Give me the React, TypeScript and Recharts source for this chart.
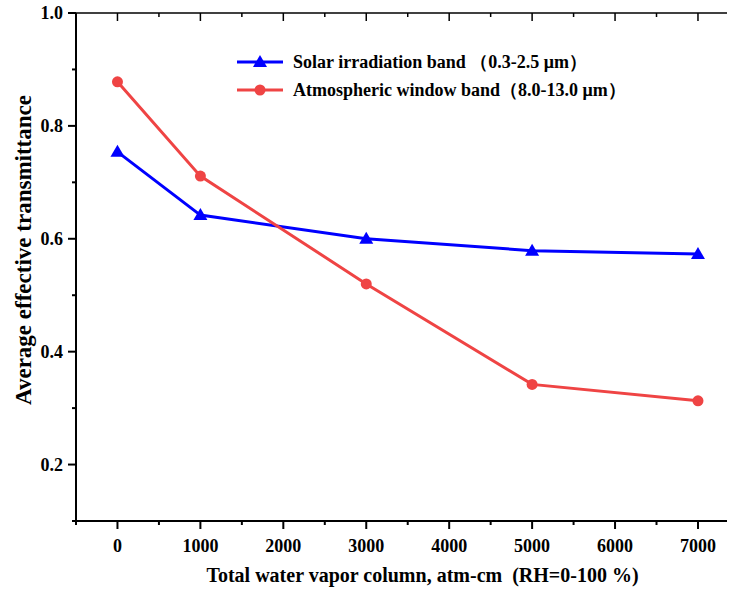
import { LineChart, Line, XAxis, YAxis } from "recharts";

const vaporColumn = [0, 1000, 3000, 5000, 7000];
const solarBand = [0.754, 0.642, 0.6, 0.579, 0.573];
const windowBand = [0.878, 0.711, 0.52, 0.342, 0.313];

const xTicks = [-500, 0, 500, 1000, 1500, 2000, 2500, 3000, 3500, 4000, 4500, 5000, 5500, 6000, 6500, 7000];
const yTicks = [0.1, 0.2, 0.3, 0.4, 0.5, 0.6, 0.7, 0.8, 0.9, 1.0];

const solarName = "Solar irradiation band （0.3-2.5 μm）";
const windowName = "Atmospheric window band（8.0-13.0 μm）";

const data = vaporColumn.map((x, i) => ({
  x,
  solar: solarBand[i],
  window: windowBand[i],
}));

const FONT = "'Liberation Serif', 'Times New Roman', serif";
const BLUE = "#0000ff";
const RED = "#ef4444";

const BottomTick = (props: any) => {
  const { x, y, payload } = props;
  const major = payload.value % 1000 === 0;
  return (
    <g>
      <line x1={x} x2={x} y1={y} y2={y + (major ? 8 : 4)} stroke="#000" strokeWidth={2} />
      {major && (
        <text x={x} y={y + 31} textAnchor="middle" fontFamily={FONT} fontWeight="bold" fontSize={18} fill="#000">
          {payload.value}
        </text>
      )}
    </g>
  );
};

const TopTick = (props: any) => {
  const { x, y, payload } = props;
  const major = payload.value % 1000 === 0;
  return <line x1={x} x2={x} y1={y} y2={y + (major ? 8 : 4)} stroke="#000" strokeWidth={1.5} />;
};

const LeftTick = (props: any) => {
  const { x, y, payload } = props;
  const major = Math.round(payload.value * 10) % 2 === 0;
  return (
    <g>
      <line x1={x} x2={x - (major ? 8 : 4)} y1={y} y2={y} stroke="#000" strokeWidth={2} />
      {major && (
        <text x={x - 13} y={y + 6} textAnchor="end" fontFamily={FONT} fontWeight="bold" fontSize={18} fill="#000">
          {payload.value.toFixed(1)}
        </text>
      )}
    </g>
  );
};

const Triangle = ({ cx, cy }: any) => (
  <polygon points={`${cx},${cy - 7} ${cx - 7},${cy + 5} ${cx + 7},${cy + 5}`} fill={BLUE} />
);

const Dot = ({ cx, cy }: any) => <circle cx={cx} cy={cy} r={5.5} fill={RED} />;

const legendItems = [
  { name: solarName, color: BLUE, marker: "tri" },
  { name: windowName, color: RED, marker: "dot" },
];

export default function App() {
  return (
    <div style={{ position: "absolute", left: 0, top: 0, width: 729, height: 590, background: "#fff" }}>
      <LineChart width={729} height={590} data={data} margin={{ top: 12, right: 2, bottom: 68, left: 75 }}>
        <XAxis
          dataKey="x"
          type="number"
          domain={[-500, 7350]}
          ticks={xTicks}
          interval={0}
          height={1}
          tickSize={0}
          tickMargin={0}
          tickLine={false}
          axisLine={{ stroke: "#000", strokeWidth: 2 }}
          tick={BottomTick}
        />
        <XAxis
          xAxisId="top"
          orientation="top"
          dataKey="x"
          type="number"
          domain={[-500, 7350]}
          ticks={xTicks}
          interval={0}
          height={1}
          tickSize={0}
          tickMargin={0}
          tickLine={false}
          axisLine={{ stroke: "#000", strokeWidth: 1.5 }}
          tick={TopTick}
        />
        <YAxis
          type="number"
          domain={[0.1, 1.0]}
          ticks={yTicks}
          interval={0}
          width={1}
          tickSize={0}
          tickMargin={0}
          tickLine={false}
          axisLine={{ stroke: "#000", strokeWidth: 2 }}
          tick={LeftTick}
        />
        <Line
          type="linear"
          dataKey="solar"
          name={solarName}
          stroke={BLUE}
          strokeWidth={3}
          dot={Triangle}
          activeDot={false}
          isAnimationActive={false}
        />
        <Line
          type="linear"
          dataKey="window"
          name={windowName}
          stroke={RED}
          strokeWidth={3}
          dot={Dot}
          activeDot={false}
          isAnimationActive={false}
        />
      </LineChart>
      <div
        style={{
          position: "absolute",
          left: 235,
          top: 48,
          fontFamily: FONT,
          fontWeight: "bold",
          fontSize: 18,
          color: "#000",
        }}
      >
        {legendItems.map((item) => (
          <div key={item.name} style={{ display: "flex", alignItems: "center", height: 28, whiteSpace: "nowrap" }}>
            <svg width={50} height={14} style={{ marginRight: 8 }}>
              <line x1={2} x2={48} y1={7} y2={7} stroke={item.color} strokeWidth={3} />
              {item.marker === "tri" ? (
                <polygon points="25,0 18,12 32,12" fill={item.color} />
              ) : (
                <circle cx={25} cy={7} r={5.5} fill={item.color} />
              )}
            </svg>
            <span>{item.name}</span>
          </div>
        ))}
      </div>
      <div
        style={{
          position: "absolute",
          left: 0,
          width: 729,
          top: 564,
          paddingLeft: 116,
          boxSizing: "border-box",
          textAlign: "center",
          fontFamily: FONT,
          fontWeight: "bold",
          fontSize: 20,
          whiteSpace: "pre",
        }}
      >
        {"Total water vapor column, atm-cm  (RH=0-100 %)"}
      </div>
      <div
        style={{
          position: "absolute",
          left: 24,
          top: 250,
          transform: "translate(-50%, -50%) rotate(-90deg)",
          fontFamily: FONT,
          fontWeight: "bold",
          fontSize: 23,
          whiteSpace: "nowrap",
        }}
      >
        Average effective transmittance
      </div>
    </div>
  );
}
